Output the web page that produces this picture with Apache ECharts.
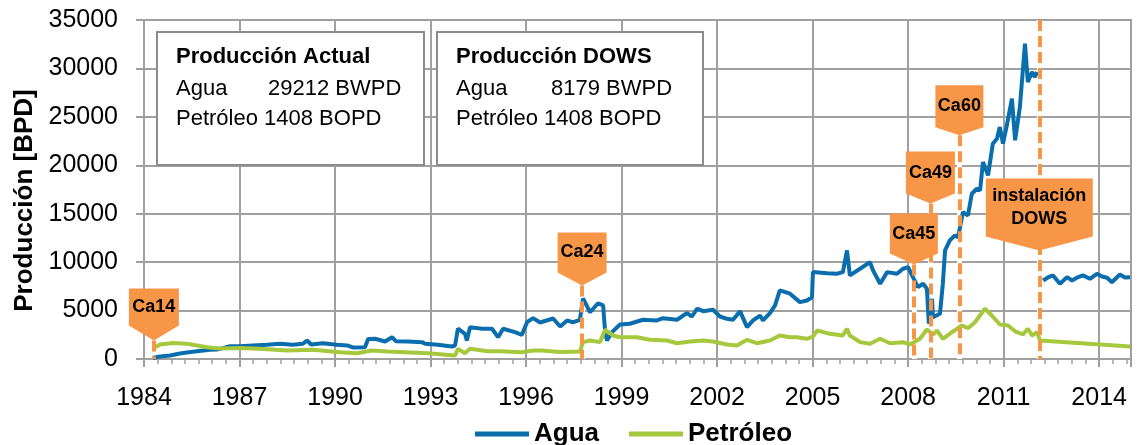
<!DOCTYPE html>
<html>
<head>
<meta charset="utf-8">
<script src="https://cdn.jsdelivr.net/npm/echarts@6/dist/echarts.min.js"></script>
<style>
    html, body {margin: 0; padding: 0; background: #fff;}
    #chart-1 {width: 1138px; height: 445px;}
</style>
</head>
<body>
<div id="chart-1"></div>
<script type="text/javascript">
    // fechas en años decimales, producción en BPD
    var aguaT = [1984.28,1984.5,1984.82,1985.13,1985.35,1985.66,1986.07,1986.29,1986.48,1986.7,
        1987.02,1987.42,1987.86,1988.27,1988.68,1988.99,1989.12,1989.25,1989.62,1990.06,
        1990.38,1990.56,1990.94,1991.04,1991.26,1991.57,1991.79,1991.91,1992.29,1992.73,
        1992.83,1993.23,1993.67,1993.77,1993.86,1994.08,1994.14,1994.24,1994.62,1994.93,
        1995.12,1995.28,1995.65,1995.87,1996.03,1996.22,1996.44,1996.85,1997.07,1997.29,
        1997.47,1997.69,1997.79,1997.85,1998.01,1998.26,1998.42,1998.48,1998.54,1998.7,
        1998.95,1999.26,1999.67,2000.11,2000.3,2000.74,2001.05,2001.21,2001.37,2001.56,
        2001.87,2002.09,2002.31,2002.5,2002.72,2002.94,2003.13,2003.35,2003.44,2003.66,
        2003.82,2003.97,2004.29,2004.6,2004.82,2004.98,2005.01,2005.45,2005.76,2005.95,
        2006.08,2006.17,2006.49,2006.8,2006.9,2007.12,2007.34,2007.65,2007.84,2008.0,
        2008.15,2008.31,2008.47,2008.59,2008.65,2008.75,2008.78,2009.0,2009.09,2009.16,
        2009.31,2009.47,2009.57,2009.72,2009.88,2010.0,2010.16,2010.26,2010.35,2010.51,
        2010.66,2010.79,2010.88,2010.98,2011.1,2011.26,2011.36,2011.51,2011.67,2011.76,
        2011.89,2011.98,2012.05,2012.12,2012.24,2012.39,2012.55,2012.77,2012.99,2013.15,
        2013.3,2013.49,2013.71,2013.93,2014.09,2014.25,2014.4,2014.65,2014.81,2014.97];
    var aguaV = [100,260,360,570,670,810,950,980,1120,1320,
        1320,1400,1470,1570,1470,1570,1910,1500,1630,1470,
        1400,1190,1220,2070,2090,1810,2250,1840,1810,1740,
        1570,1470,1290,1390,3150,2600,1910,3290,3120,3120,
        2250,3120,2770,2500,3800,4220,3770,4180,3360,3980,
        3770,4050,6250,6380,4830,5760,5530,2940,1910,2770,
        3560,3640,4050,3980,4210,4050,4730,4390,5190,4940,
        5080,4390,4150,4050,4940,3290,3980,4490,3980,4730,
        5530,7080,6740,5870,6040,6380,8970,8860,8800,8970,
        11210,8630,9320,10000,9140,7770,8970,8800,9320,9480,
        8450,7420,7770,7250,3640,6220,4320,4670,7770,11210,
        12240,12760,12580,15160,14820,17060,17580,17410,20330,18960,
        22230,22750,23950,22230,24120,26880,22580,26010,32560,28590,
        29630,29110,29630,null,8110,8420,8630,7770,8450,8110,
        8390,8630,8280,8800,8520,8390,7930,8730,8420,8450];

    var petroleoT = [1984.28,1984.5,1984.91,1985.35,1985.98,1986.39,1987.02,1987.64,1988.49,1989.31,
        1990.16,1990.69,1991.16,1991.66,1992.2,1992.92,1993.77,1993.86,1994.08,1994.24,
        1994.8,1995.18,1995.87,1996.22,1996.5,1997.07,1997.69,1997.79,1998.01,1998.32,
        1998.48,1998.73,1998.95,1999.48,1999.89,2000.43,2000.74,2001.15,2001.56,2001.87,
        2002.31,2002.62,2002.94,2003.25,2003.66,2003.97,2004.29,2004.51,2004.82,2005.01,
        2005.14,2005.55,2005.95,2006.08,2006.17,2006.49,2006.8,2007.12,2007.43,2007.84,
        2008.06,2008.37,2008.59,2008.78,2008.91,2009.09,2009.41,2009.69,2009.88,2010.1,
        2010.41,2010.63,2010.88,2011.14,2011.36,2011.61,2011.76,2011.89,2012.05,2012.14,
        2013.55,2014.97];
    var petroleoV = [1080,1500,1650,1570,1220,1080,1140,1050,880,950,
        700,600,880,770,700,600,360,1050,600,1050,
        810,810,700,880,880,720,770,1740,1910,1740,
        3020,2430,2250,2250,1980,1910,1630,1810,1910,1810,
        1500,1390,1980,1630,1910,2430,2250,2250,2090,2320,
        2940,2600,2430,3120,2430,1740,1570,2090,1630,1740,
        1500,2090,3050,2530,2940,2090,2840,3460,3180,3800,
        5190,4490,3560,3460,2860,2530,3120,2430,2770,1910,
        1600,1290];

    // pozos / eventos: fecha y altura de la punta del globo
    var eventos = ['Ca14', 'Ca24', 'Ca45', 'Ca49', 'Ca60', 'instalación\nDOWS'];
    var eventosT = [1984.31, 1997.76, 2008.18, 2008.70, 2009.61, 2012.12];
    var eventosV = [1900, 7600, 9750, 16050, 23100, 11200];

    var T0 = 1984;
    var fuente = "'Liberation Sans', Arial, sans-serif";
    var gris = '#a0a0a0';
    var naranja = '#F79646';
    // ancho, alto del rectangulo, alto de la punta (px)
    var globos = [[50, 37, 15], [49, 40, 13], [48, 40, 11], [49, 42, 10], [48, 42, 8], [107, 58, 14]];

    function pares(t, v) {
        return t.map(function (x, i) { return [x - T0, v[i]]; });
    }

    var lineasEventos = eventosT.map(function (t, i) {
        var top = i === eventos.length - 1 ? 35000 : eventosV[i];
        return [{coord: [t - T0, top]}, {coord: [t - T0, 0]}];
    });

    var puntosEventos = eventos.map(function (n, i) {
        var w = globos[i][0], r = globos[i][1], p = globos[i][2];
        return {
            name: n,
            coord: [eventosT[i] - T0, eventosV[i]],
            symbol: 'path://M0,0L' + w + ',0L' + w + ',' + r + 'L' + (w / 2) + ',' + (r + p) + 'L0,' + r + 'Z',
            symbolSize: [w, r + p],
            symbolOffset: [0, -(r + p) / 2],
            label: {offset: [0, -p / 2]}
        };
    });

    var myChart = echarts.init(document.getElementById('chart-1'));
    var option = {
        animation: false,
        textStyle: {fontFamily: fuente},
        grid: {left: 144, right: 7, top: 20, bottom: 86, show: true, borderColor: gris, borderWidth: 2},
        legend: {
            data: ['Agua', 'Petróleo'],
            left: 470, top: 416,
            icon: 'rect', itemWidth: 54, itemHeight: 5, itemGap: 30,
            textStyle: {fontFamily: fuente, fontSize: 26, fontWeight: 'bold', color: '#000'}
        },
        xAxis: {
            type: 'value', min: 0, max: 31, interval: 3,
            axisLine: {show: true, lineStyle: {color: gris, width: 2}},
            axisTick: {show: true, length: 8, lineStyle: {color: gris, width: 2}},
            minorTick: {show: true, splitNumber: 7, length: 5, lineStyle: {color: gris, width: 1.5}},
            splitLine: {show: true, lineStyle: {color: gris, width: 2}},
            axisLabel: {
                fontSize: 25, color: '#000', margin: 27, showMaxLabel: false,
                formatter: function (v) { return String(T0 + v); }
            }
        },
        yAxis: {
            type: 'value', min: 0, max: 35000, interval: 5000,
            name: 'Producción [BPD]', nameLocation: 'middle', nameGap: 104,
            nameTextStyle: {fontSize: 26, fontWeight: 'bold', color: '#000', padding: [0, 22, 0, 0]},
            axisLine: {show: true, lineStyle: {color: gris, width: 2}},
            axisTick: {show: true, length: 8, lineStyle: {color: gris, width: 2}},
            splitLine: {show: true, lineStyle: {color: gris, width: 2}},
            axisLabel: {
                fontSize: 25, color: '#000', margin: 26,
                formatter: function (v) { return String(v); }
            }
        },
        graphic: [
            {type: 'rect', z: 10, shape: {x: 157, y: 32, width: 267, height: 133},
                style: {fill: '#fff', stroke: '#8c8c8c', lineWidth: 2}},
            {type: 'text', z: 11, x: 176, y: 57, style: {text: 'Producción Actual', font: 'bold 22px ' + fuente, fill: '#000', verticalAlign: 'middle'}},
            {type: 'text', z: 11, x: 176, y: 89, style: {text: 'Agua', font: '22px ' + fuente, fill: '#000', verticalAlign: 'middle'}},
            {type: 'text', z: 11, x: 268, y: 89, style: {text: '29212 BWPD', font: '22px ' + fuente, fill: '#000', verticalAlign: 'middle'}},
            {type: 'text', z: 11, x: 176, y: 119, style: {text: 'Petróleo 1408 BOPD', font: '22px ' + fuente, fill: '#000', verticalAlign: 'middle'}},
            {type: 'rect', z: 10, shape: {x: 437, y: 32, width: 266, height: 133},
                style: {fill: '#fff', stroke: '#8c8c8c', lineWidth: 2}},
            {type: 'text', z: 11, x: 456, y: 57, style: {text: 'Producción DOWS', font: 'bold 22px ' + fuente, fill: '#000', verticalAlign: 'middle'}},
            {type: 'text', z: 11, x: 456, y: 89, style: {text: 'Agua', font: '22px ' + fuente, fill: '#000', verticalAlign: 'middle'}},
            {type: 'text', z: 11, x: 551, y: 89, style: {text: '8179 BWPD', font: '22px ' + fuente, fill: '#000', verticalAlign: 'middle'}},
            {type: 'text', z: 11, x: 456, y: 119, style: {text: 'Petróleo 1408 BOPD', font: '22px ' + fuente, fill: '#000', verticalAlign: 'middle'}}
        ],
        series: [
            {
                name: 'Agua',
                type: 'line',
                showSymbol: false,
                connectNulls: false,
                color: '#0A6EAE',
                lineStyle: {width: 4},
                data: pares(aguaT, aguaV),
                // fondo blanco de las lineas de eventos
                markLine: {
                    z: 3, silent: true, symbol: ['none', 'none'], label: {show: false},
                    lineStyle: {color: '#fff', width: 5, type: 'solid'},
                    data: lineasEventos
                }
            },
            {
                name: 'Petróleo',
                type: 'line',
                showSymbol: false,
                color: '#A6C83C',
                lineStyle: {width: 4},
                data: pares(petroleoT, petroleoV),
                markLine: {
                    z: 4, silent: true, symbol: ['none', 'none'], label: {show: false},
                    lineStyle: {color: naranja, width: 4, type: [11, 5]},
                    data: lineasEventos
                },
                markPoint: {
                    z: 6, silent: true,
                    itemStyle: {color: naranja},
                    label: {show: true, formatter: '{b}', color: '#000', fontSize: 18, fontWeight: 'bold', lineHeight: 23, fontFamily: fuente},
                    data: puntosEventos
                }
            }
        ]
    };
    myChart.setOption(option);
</script>
</body>
</html>
